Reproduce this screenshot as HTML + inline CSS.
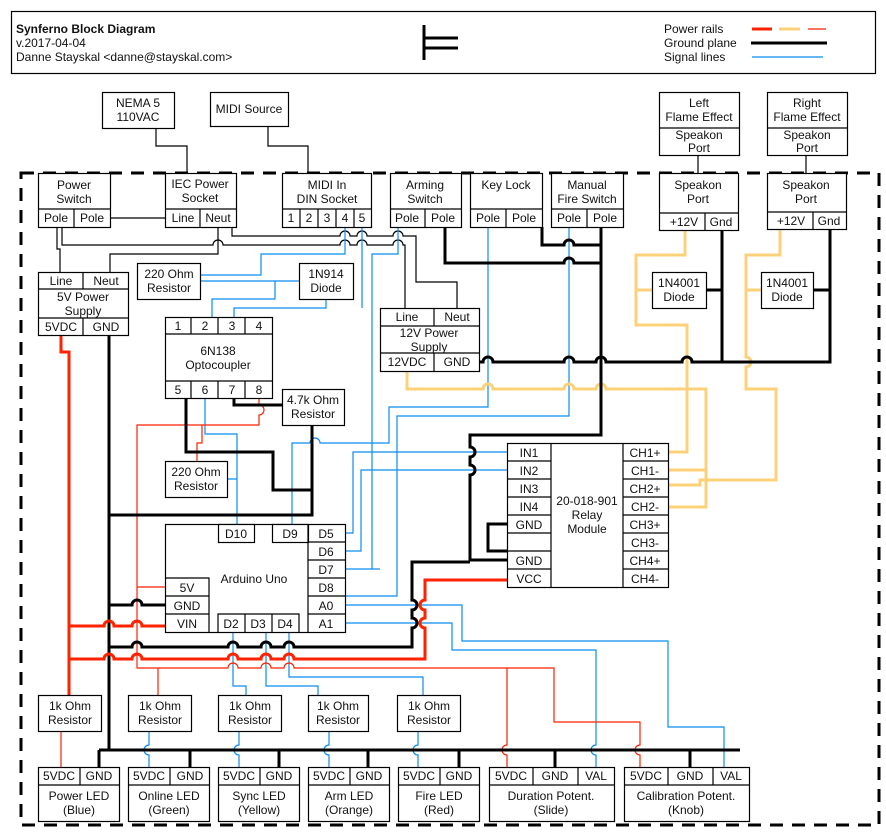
<!DOCTYPE html>
<html><head><meta charset="utf-8"><style>
html,body{margin:0;padding:0;background:#fff;}
svg{display:block;font-family:"Liberation Sans",Arial,sans-serif;}
text{font-size:12px;fill:#111;text-anchor:middle;}
.b{fill:#fff;stroke:#000;stroke-width:1.2;}
.l{fill:none;stroke:#000;stroke-width:1.2;}
.g{fill:none;stroke:#000;stroke-width:3;}
.r{fill:none;stroke:#ff2200;stroke-width:3;}
.rt{fill:none;stroke:#ff2200;stroke-width:1.2;}
.y{fill:none;stroke:#fdd17a;stroke-width:3;}
.s{fill:none;stroke:#0a8cf0;stroke-width:1.2;}
</style></head><body>
<svg width="886" height="833" viewBox="0 0 886 833">
<!-- header -->
<rect x="11.5" y="11.5" width="864" height="62" class="l"/>
<text x="16" y="33" style="text-anchor:start;font-weight:bold">Synferno Block Diagram</text>
<text x="16" y="47" style="text-anchor:start">v.2017-04-04</text>
<text x="16" y="61" style="text-anchor:start">Danne Stayskal &lt;danne@stayskal.com&gt;</text>
<path d="M424 25V60M424 38H458M424 48H458" class="g" stroke-width="2.5"/>
<text x="664" y="33" style="text-anchor:start">Power rails</text>
<text x="664" y="47" style="text-anchor:start">Ground plane</text>
<text x="664" y="61" style="text-anchor:start">Signal lines</text>
<path d="M752 29H772" class="r"/><path d="M779 29H800" class="y"/><path d="M808 29H826" class="rt"/>
<path d="M751 43H827" class="g"/><path d="M752 57H823" class="s"/>

<!-- external -->
<rect x="102.5" y="92.5" width="72" height="36" class="b"/><text x="138" y="107">NEMA 5</text><text x="138" y="121">110VAC</text>
<rect x="210.5" y="92.5" width="78" height="34" class="b"/><text x="249" y="113">MIDI Source</text>
<path d="M156 128V146H187V173M268 126V146H308V173" class="l"/>
<rect x="659.5" y="92.5" width="80" height="63" class="b"/><path d="M659 128H739" class="l"/>
<text x="699" y="107">Left</text><text x="699" y="121">Flame Effect</text><text x="699" y="139">Speakon</text><text x="699" y="152">Port</text>
<rect x="767.5" y="92.5" width="80" height="63" class="b"/><path d="M767 128H847" class="l"/>
<text x="807" y="107">Right</text><text x="807" y="121">Flame Effect</text><text x="807" y="139">Speakon</text><text x="807" y="152">Port</text>
<path d="M698 155V173M806 155V173" class="l"/>

<!-- dashed border -->
<rect x="21" y="173" width="858" height="652" fill="none" stroke="#000" stroke-width="3" stroke-dasharray="13 9"/>

<!-- wires: black thin -->
<path d="M110 218H165" class="l"/>
<path d="M57 227V249H60V272" class="l"/>
<path d="M62 227V245H213a5 5 0 0 1 10 0H340a5 5 0 0 1 10 0H357a5 5 0 0 1 10 0H393a5 5 0 0 1 10 0H405V308" class="l"/>
<path d="M218 227V254H110V272" class="l"/>
<path d="M232 227V236H340a5 5 0 0 1 10 0H357a5 5 0 0 1 10 0H393a5 5 0 0 1 10 0H416V282H457V308" class="l"/>

<!-- signal -->
<path d="M345 227V254H261V275H200" class="s"/>
<path d="M200 281H299M275 281V299H212V317" class="s"/>
<path d="M326 299V308H234V317M362 227V308" class="s"/>
<path d="M398 227V254H372V569M345 569H380" class="s"/>
<path d="M488 227V407H389V443H320a5 5 0 0 0 -10 0H292V524" class="s"/>
<path d="M569 227V416H397V596H345" class="s"/>
<path d="M345 533H353V452H507M345 551H361V470H507" class="s"/>
<path d="M205 398V434H237V524M227 479H237" class="s"/>
<path d="M345 605H462V641H668V727H724V767" class="s"/>
<path d="M345 623H452V650H596V745a5 5 0 0 0 0 10V767" class="s"/>
<path d="M233 632V686H246V695M266 632V686H318V695M289 632V677H423V695" class="s"/>
<path d="M149 732V745a5 5 0 0 0 0 10V767M239 732V745a5 5 0 0 0 0 10V767M329 732V745a5 5 0 0 0 0 10V767M418 732V745a5 5 0 0 0 0 10V767" class="s"/>

<!-- thin red -->
<path d="M259 398V405a5 5 0 0 1 0 10V425H137V668H228a5 5 0 0 1 10 0H261a5 5 0 0 1 10 0H284a5 5 0 0 1 10 0H554V722H640V745a5 5 0 0 0 0 10V767M507 668V745a5 5 0 0 0 0 10V767M158 668V695M137 587H165M202 425V443H197V461" class="rt"/>
<path d="M61 732V767" class="rt"/>

<!-- yellow -->
<path d="M407 371V389H483a5 5 0 0 1 10 0H564a5 5 0 0 1 10 0H596a5 5 0 0 1 10 0H706V507H668M668 470H706" class="y"/>
<path d="M685 230V255H636V325H687V452H668M636 290H652" class="y"/>
<path d="M780 230V255H746V357a5 5 0 0 1 0 10V389H776V480H700V485H668M746 290H761" class="y"/>

<!-- ground -->
<path d="M109 335V750M99 750H740M99 750V767M190 750V767M279 750V767M368 750V767M459 750V767M555 750V767M690 750V767" class="g"/>
<path d="M109 515H312V425M186 398V452H273V490H312M234 398V405H282" class="g"/>
<path d="M109 605H132a5 5 0 0 1 10 0H165" class="g"/>
<path d="M109 647H132a5 5 0 0 1 10 0H228a5 5 0 0 1 10 0H261a5 5 0 0 1 10 0H284a5 5 0 0 1 10 0H412V628a5 5 0 0 0 0 -10V610a5 5 0 0 0 0 -10V562H470" class="g"/>
<path d="M507 560H470V475a5 5 0 0 0 0 -10V457a5 5 0 0 0 0 -10V435H601V227M507 524H488V551H507" class="g"/>
<path d="M445 227V263H564a5 5 0 0 1 10 0H601M542 227V245H564a5 5 0 0 1 10 0H601" class="g"/>
<path d="M479 362H483a5 5 0 0 1 10 0H564a5 5 0 0 1 10 0H596a5 5 0 0 1 10 0H682a5 5 0 0 1 10 0H830V230M722 230V362M706 290H722M813 290H830" class="g"/>

<!-- red thick -->
<path d="M61 335V352H69V695" class="r"/>
<path d="M69 626H104a5 5 0 0 1 10 0H132a5 5 0 0 1 10 0H165" class="r"/>
<path d="M69 659H104a5 5 0 0 1 10 0H132a5 5 0 0 1 10 0H228a5 5 0 0 1 10 0H261a5 5 0 0 1 10 0H284a5 5 0 0 1 10 0H425V628a5 5 0 0 1 0 -10V610a5 5 0 0 1 0 -10V580H507" class="r"/>

<!-- components -->
<g>
<rect x="38.5" y="173.5" width="72" height="54" class="b"/><path d="M38 209H110M74 209V227" class="l"/>
<text x="74" y="189">Power</text><text x="74" y="203">Switch</text><text x="56" y="222">Pole</text><text x="92" y="222">Pole</text>
<rect x="165.5" y="173.5" width="71" height="54" class="b"/><path d="M165 209H236M200 209V227" class="l"/>
<text x="200" y="188">IEC Power</text><text x="200" y="202">Socket</text><text x="183" y="222">Line</text><text x="218" y="222">Neut</text>
<rect x="282.5" y="173.5" width="89" height="54" class="b"/><path d="M282 209H371M300 209V227M318 209V227M336 209V227M354 209V227" class="l"/>
<text x="327" y="189">MIDI In</text><text x="327" y="203">DIN Socket</text>
<text x="291" y="222">1</text><text x="309" y="222">2</text><text x="327" y="222">3</text><text x="345" y="222">4</text><text x="362" y="222">5</text>
<rect x="390.5" y="173.5" width="71" height="54" class="b"/><path d="M390 209H461M425 209V227" class="l"/>
<text x="425" y="189">Arming</text><text x="425" y="203">Switch</text><text x="407" y="222">Pole</text><text x="443" y="222">Pole</text>
<rect x="470.5" y="173.5" width="72" height="54" class="b"/><path d="M470 209H542M506 209V227" class="l"/>
<text x="506" y="189">Key Lock</text><text x="488" y="222">Pole</text><text x="524" y="222">Pole</text>
<rect x="551.5" y="173.5" width="72" height="54" class="b"/><path d="M551 209H623M587 209V227" class="l"/>
<text x="587" y="189">Manual</text><text x="587" y="203">Fire Switch</text><text x="569" y="222">Pole</text><text x="605" y="222">Pole</text>
<rect x="659.5" y="173.5" width="79" height="57" class="b"/><path d="M659 213H738M705 213V230" class="l"/>
<text x="698" y="189">Speakon</text><text x="698" y="203">Port</text><text x="684" y="226">+12V</text><text x="721" y="226">Gnd</text>
<rect x="767.5" y="173.5" width="79" height="56" class="b"/><path d="M767 212H846M813 212V229" class="l"/>
<text x="806" y="189">Speakon</text><text x="806" y="203">Port</text><text x="791" y="225">+12V</text><text x="829" y="225">Gnd</text>

<rect x="38.5" y="272.5" width="90" height="63" class="b"/><path d="M38 289H128M38 318H128M83 272V289M83 318V335" class="l"/>
<text x="61" y="285">Line</text><text x="106" y="285">Neut</text><text x="83" y="301">5V Power</text><text x="83" y="315">Supply</text><text x="61" y="331">5VDC</text><text x="106" y="331">GND</text>
<rect x="137.5" y="263.5" width="63" height="36" class="b"/><text x="169" y="278">220 Ohm</text><text x="169" y="292">Resistor</text>
<rect x="299.5" y="263.5" width="54" height="36" class="b"/><text x="326" y="278">1N914</text><text x="326" y="292">Diode</text>
<rect x="165.5" y="317.5" width="107" height="81" class="b"/><path d="M165 334H272M165 381H272M191 317V334M218 317V334M245 317V334M191 381V398M218 381V398M245 381V398" class="l"/>
<text x="178" y="330">1</text><text x="205" y="330">2</text><text x="232" y="330">3</text><text x="259" y="330">4</text>
<text x="218" y="355">6N138</text><text x="218" y="369">Optocoupler</text>
<text x="178" y="394">5</text><text x="205" y="394">6</text><text x="232" y="394">7</text><text x="259" y="394">8</text>
<rect x="380.5" y="308.5" width="99" height="63" class="b"/><path d="M380 326H479M380 353H479M434 308V326M434 353V371" class="l"/>
<text x="407" y="321">Line</text><text x="457" y="321">Neut</text><text x="429" y="337">12V Power</text><text x="429" y="351">Supply</text><text x="407" y="366">12VDC</text><text x="457" y="366">GND</text>
<rect x="282.5" y="389.5" width="62" height="36" class="b"/><text x="313" y="404">4.7k Ohm</text><text x="313" y="418">Resistor</text>
<rect x="165.5" y="461.5" width="62" height="36" class="b"/><text x="196" y="476">220 Ohm</text><text x="196" y="490">Resistor</text>
<rect x="652.5" y="272.5" width="54" height="36" class="b"/><text x="679" y="287">1N4001</text><text x="679" y="301">Diode</text>
<rect x="761.5" y="272.5" width="52" height="36" class="b"/><text x="787" y="287">1N4001</text><text x="787" y="301">Diode</text>

<rect x="165.5" y="524.5" width="180" height="108" class="b"/>
<text x="254" y="583">Arduino Uno</text>
<rect x="218.5" y="524.5" width="36" height="18" class="b"/><text x="236" y="538">D10</text>
<rect x="272.5" y="524.5" width="36" height="18" class="b"/><text x="290" y="538">D9</text>
<path d="M308 524V632M308 542H345M308 560H345M308 578H345M308 596H345M308 614H345" class="l"/>
<text x="326" y="538">D5</text><text x="326" y="556">D6</text><text x="326" y="574">D7</text><text x="326" y="592">D8</text><text x="326" y="610">A0</text><text x="326" y="628">A1</text>
<path d="M165 578H209V632M165 596H209M165 614H209" class="l"/>
<text x="187" y="592">5V</text><text x="187" y="610">GND</text><text x="187" y="628">VIN</text>
<path d="M218 632V614H299V632M245 614V632M272 614V632" class="l"/>
<text x="231" y="628">D2</text><text x="258" y="628">D3</text><text x="285" y="628">D4</text>

<rect x="507.5" y="443.5" width="161" height="144" class="b"/>
<path d="M551 443V587M623 443V587M507 461H551M507 479H551M507 497H551M507 515H551M507 533H551M507 551H551M507 569H551M623 461H668M623 479H668M623 497H668M623 515H668M623 533H668M623 551H668M623 569H668" class="l"/>
<text x="529" y="457">IN1</text><text x="529" y="475">IN2</text><text x="529" y="493">IN3</text><text x="529" y="511">IN4</text><text x="529" y="529">GND</text><text x="529" y="565">GND</text><text x="529" y="583">VCC</text>
<text x="587" y="505">20-018-901</text><text x="587" y="519">Relay</text><text x="587" y="533">Module</text>
<text x="645" y="457">CH1+</text><text x="645" y="475">CH1-</text><text x="645" y="493">CH2+</text><text x="645" y="511">CH2-</text><text x="645" y="529">CH3+</text><text x="645" y="547">CH3-</text><text x="645" y="565">CH4+</text><text x="645" y="583">CH4-</text>

<rect x="38.5" y="695.5" width="63" height="36" class="b"/><text x="70" y="710">1k Ohm</text><text x="70" y="724">Resistor</text>
<rect x="128.5" y="695.5" width="63" height="36" class="b"/><text x="160" y="710">1k Ohm</text><text x="160" y="724">Resistor</text>
<rect x="218.5" y="695.5" width="63" height="36" class="b"/><text x="250" y="710">1k Ohm</text><text x="250" y="724">Resistor</text>
<rect x="308.5" y="695.5" width="60" height="36" class="b"/><text x="338" y="710">1k Ohm</text><text x="338" y="724">Resistor</text>
<rect x="397.5" y="695.5" width="63" height="36" class="b"/><text x="429" y="710">1k Ohm</text><text x="429" y="724">Resistor</text>

<rect x="38.5" y="767.5" width="81" height="54" class="b"/><path d="M38 785H119M80 767V785" class="l"/>
<text x="59" y="780">5VDC</text><text x="99" y="780">GND</text><text x="79" y="800">Power LED</text><text x="79" y="814">(Blue)</text>
<rect x="128.5" y="767.5" width="81" height="54" class="b"/><path d="M128 785H209M170 767V785" class="l"/>
<text x="149" y="780">5VDC</text><text x="190" y="780">GND</text><text x="169" y="800">Online LED</text><text x="169" y="814">(Green)</text>
<rect x="218.5" y="767.5" width="81" height="54" class="b"/><path d="M218 785H299M260 767V785" class="l"/>
<text x="239" y="780">5VDC</text><text x="279" y="780">GND</text><text x="259" y="800">Sync LED</text><text x="259" y="814">(Yellow)</text>
<rect x="308.5" y="767.5" width="81" height="54" class="b"/><path d="M308 785H389M350 767V785" class="l"/>
<text x="329" y="780">5VDC</text><text x="369" y="780">GND</text><text x="349" y="800">Arm LED</text><text x="349" y="814">(Orange)</text>
<rect x="398.5" y="767.5" width="81" height="54" class="b"/><path d="M398 785H479M440 767V785" class="l"/>
<text x="419" y="780">5VDC</text><text x="459" y="780">GND</text><text x="439" y="800">Fire LED</text><text x="439" y="814">(Red)</text>
<rect x="489.5" y="767.5" width="125" height="54" class="b"/><path d="M489 785H614M533 767V785M578 767V785" class="l"/>
<text x="511" y="780">5VDC</text><text x="555" y="780">GND</text><text x="596" y="780">VAL</text><text x="551" y="800">Duration Potent.</text><text x="551" y="814">(Slide)</text>
<rect x="624.5" y="767.5" width="125" height="54" class="b"/><path d="M624 785H749M668 767V785M713 767V785" class="l"/>
<text x="646" y="780">5VDC</text><text x="690" y="780">GND</text><text x="731" y="780">VAL</text><text x="686" y="800">Calibration Potent.</text><text x="686" y="814">(Knob)</text>
</g>
</svg>
</body></html>
